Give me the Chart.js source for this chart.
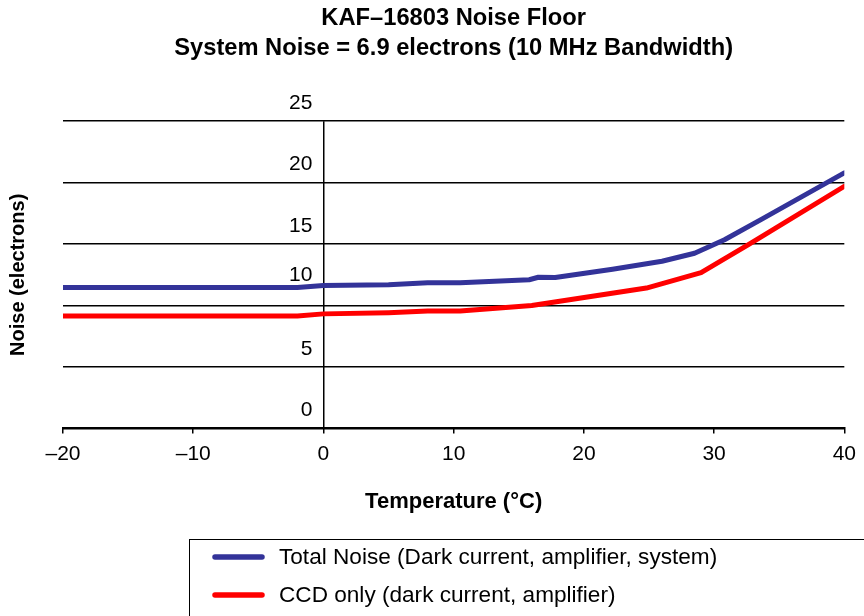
<!DOCTYPE html>
<html>
<head>
<meta charset="utf-8">
<style>
  html, body { margin: 0; padding: 0; background: #fff; }
  #wrap { width: 864px; height: 616px; }
</style>
<script src="https://cdn.jsdelivr.net/npm/chart.js@4/dist/chart.umd.min.js"></script>
</head>
<body>
<div id="wrap"><canvas id="noiseChart" width="864" height="616"></canvas></div>
<script>
/* --------- DATA --------- */
const titleLines = ["KAF\u201316803 Noise Floor", "System Noise = 6.9 electrons (10 MHz Bandwidth)"];

const totalTemps = [-20, -2, 0, 5, 8, 10.5, 15.8, 16.5, 17.8, 22.2, 26, 28.5, 30.8, 33.7, 40];
const totalNoise = [11.46, 11.46, 11.62, 11.7, 11.85, 11.85, 12.1, 12.3, 12.28, 12.95, 13.6, 14.25, 15.35, 17.05, 20.8];

const ccdTemps = [-20, -2, 0, 5, 8, 10.5, 16, 24.8, 29, 32.7, 40];
const ccdNoise = [9.15, 9.15, 9.32, 9.42, 9.55, 9.55, 10.0, 11.42, 12.68, 15.0, 19.7];

const xTicks = [-20, -10, 0, 10, 20, 30, 40];
const xTickLabels = ["\u201320", "\u201310", "0", "10", "20", "30", "40"];
const yTicks = [0, 5, 10, 15, 20, 25];
// the "10" sits higher than the others in the original, a blank second line lifts it
const yTickLabels = ["0", "5", ["10", ""], "15", "20", "25"];

const FONT = "'Liberation Sans', Arial, Helvetica, sans-serif";

/* --------- HELPERS --------- */
function toPoints(xs, ys) {
  return xs.map((x, i) => ({ x: x, y: ys[i] }));
}

/* --------- LEGEND BOX --------- */
const boxLegend = {
  id: "boxLegend",
  afterDraw(chart) {
    const c = chart.ctx;
    c.save();
    c.strokeStyle = "#000";
    c.lineWidth = 1;
    c.strokeRect(189.5, 539.5, 720, 120);
    const rows = [557, 595];
    chart.data.datasets.forEach((ds, i) => {
      const y = rows[i];
      c.strokeStyle = ds.borderColor;
      c.lineWidth = 5.5;
      c.lineCap = "round";
      c.beginPath();
      c.moveTo(215, y);
      c.lineTo(262, y);
      c.stroke();
      c.fillStyle = "#000";
      c.font = "22.6px " + FONT;
      c.textBaseline = "middle";
      c.textAlign = "left";
      c.fillText(ds.label, 279, y + 1);
    });
    c.restore();
  }
};

/* --------- CHART --------- */
const ctx = document.getElementById("noiseChart");

new Chart(ctx, {
  type: "line",
  data: {
    datasets: [
      {
        label: "Total Noise (Dark current, amplifier, system)",
        data: toPoints(totalTemps, totalNoise),
        borderColor: "#333399",
        borderWidth: 5,
        pointRadius: 0,
        tension: 0,
        borderJoinStyle: "round",
        borderCapStyle: "round"
      },
      {
        label: "CCD only (dark current, amplifier)",
        data: toPoints(ccdTemps, ccdNoise),
        borderColor: "#ff0000",
        borderWidth: 5,
        pointRadius: 0,
        tension: 0,
        borderJoinStyle: "round",
        borderCapStyle: "round"
      }
    ]
  },
  options: {
    responsive: false,
    animation: false,
    layout: { padding: { top: 0, right: 19, bottom: 76, left: 0 } },
    plugins: {
      legend: { display: false },
      tooltip: { enabled: false },
      title: {
        display: true,
        text: titleLines,
        fullSize: false,
        color: "#000",
        font: { family: FONT, size: 23.7, weight: "bold", lineHeight: 1.27 },
        padding: { top: 3, bottom: 58 }
      }
    },
    scales: {
      x: {
        type: "linear",
        min: -20,
        max: 40,
        afterBuildTicks: s => { s.ticks = xTicks.map(v => ({ value: v })); },
        ticks: {
          color: "#000",
          padding: 8,
          maxRotation: 0,
          font: { family: FONT, size: 21 },
          callback: v => xTickLabels[xTicks.indexOf(v)]
        },
        grid: {
          color: c => (c.tick && c.tick.value === 0 ? "#000" : "rgba(0,0,0,0)"),
          tickColor: "#000",
          lineWidth: 1.5,
          tickLength: 5
        },
        border: { display: true, color: "#000", width: 2 },
        title: {
          display: true,
          text: "Temperature (\u00b0C)",
          color: "#000",
          font: { family: FONT, size: 22, weight: "bold", lineHeight: 1.2 },
          padding: { top: 14, bottom: 25 }
        }
      },
      y: {
        min: 0,
        max: 25,
        afterBuildTicks: s => { s.ticks = yTicks.map(v => ({ value: v })); },
        afterFit: s => {
          // tick labels sit beside the 0 °C line, so the axis itself stays narrow
          s.width = 63;
          s.paddingTop = 0;
          s.paddingBottom = 0;
        },
        ticks: {
          color: "#000",
          mirror: true,
          crossAlign: "far",
          padding: 226,
          labelOffset: -18,
          font: { family: FONT, size: 21 },
          callback: v => yTickLabels[yTicks.indexOf(v)]
        },
        grid: { color: "#000", lineWidth: 1.5, drawTicks: false },
        border: { display: false },
        title: {
          display: true,
          text: "Noise (electrons)",
          color: "#000",
          font: { family: FONT, size: 20, weight: "bold", lineHeight: 1.2 },
          padding: { top: 6, bottom: 0 }
        }
      }
    }
  },
  plugins: [boxLegend]
});
</script>
</body>
</html>
